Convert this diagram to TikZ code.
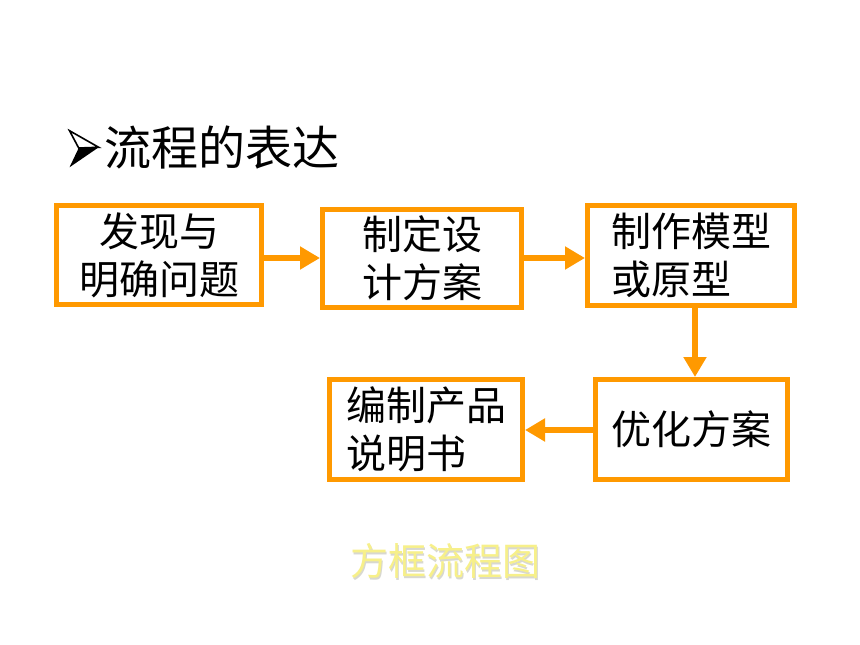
\documentclass[tikz,border=0pt]{standalone}
\usepackage{fontspec}
\setmainfont{Noto Sans CJK SC}
\usetikzlibrary{arrows.meta,calc}
\definecolor{boxorange}{HTML}{FF9900}
\definecolor{capyellow}{HTML}{F7F08A}
\definecolor{capshadow}{HTML}{D8D8D0}
\tikzset{
  flowbox/.style={draw=boxorange, line width=5pt, inner sep=0pt, fill=white,
    font=\fontsize{40}{48}\selectfont, text=black},
  flowarrow/.style={draw=boxorange, line width=6pt,
    -{Triangle[length=20pt,width=22pt]}},
}
\begin{document}
\begin{tikzpicture}[x=1pt,y=-1pt]
\useasboundingbox[fill=white] (0,0) rectangle (860,645);
% title bullet (3-D arrowhead)
\coordinate (bt) at (98.7,147.3);
\coordinate (bu) at (69.5,130.7);
\coordinate (bn) at (78.7,148);
\coordinate (bl) at (69.5,167.3);
\fill[black] (bn) -- (bt) -- (bl) -- cycle;
\draw[black, fill=white, line width=1.6pt, line join=miter] (bu) -- (bt) -- (bn) -- cycle;
% title
\node[anchor=west, inner sep=0pt, font=\fontsize{47}{50}\selectfont] (title) at (104,148)
  {流程的表达};
% boxes
\node[flowbox, minimum width=205pt, minimum height=99pt, align=center] (b1) at (159,255)
  {发现与\\明确问题};
\node[flowbox, minimum width=199pt, minimum height=98pt, align=center] (b2) at (422,258.5)
  {制定设\\计方案};
\node[flowbox, minimum width=207pt, minimum height=100pt, align=left] (b3) at (691,255.5)
  {制作模型\\或原型};
\node[flowbox, minimum width=192pt, minimum height=100pt, align=center] (b4) at (691.5,429.5)
  {优化方案};
\node[flowbox, minimum width=193pt, minimum height=100pt, align=left] (b5) at (426,429.5)
  {编制产品\\说明书};
% connectors
\draw[flowarrow] (b1.east |- 0,258) -- (b2.west |- 0,258);
\draw[flowarrow] (b2.east |- 0,258) -- (b3.west |- 0,258);
\draw[flowarrow] (b3.south -| 695,0) -- (b4.north -| 695,0);
\draw[flowarrow] (b4.west |- 0,430) -- (b5.east |- 0,430);
% caption
\node[font=\fontsize{38}{40}\selectfont, text=capshadow, inner sep=0pt] (capsh) at (446.5,562.5) {方框流程图};
\node[font=\fontsize{38}{40}\selectfont, text=capyellow, inner sep=0pt] (cap) at (445,561) {方框流程图};
\end{tikzpicture}
\end{document}
